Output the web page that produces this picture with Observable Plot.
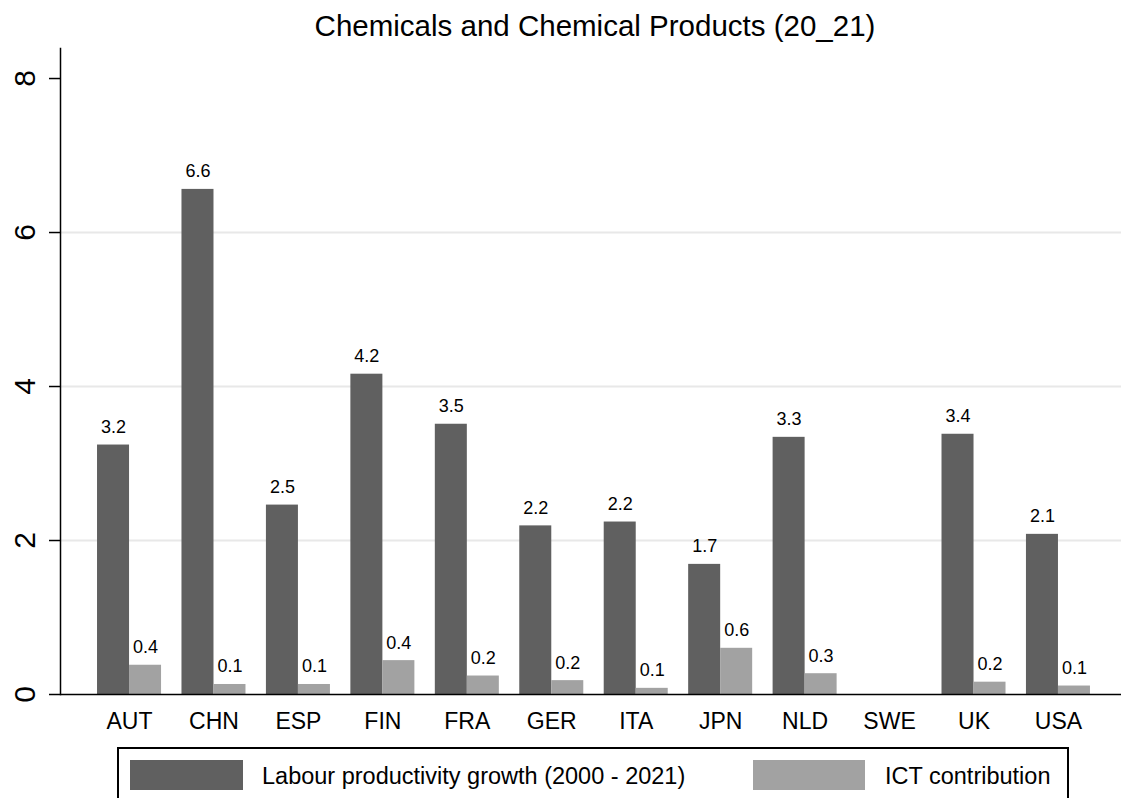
<!DOCTYPE html>
<html>
<head>
<meta charset="utf-8">
<script src="https://cdn.jsdelivr.net/npm/d3@7"></script>
<script src="https://cdn.jsdelivr.net/npm/@observablehq/plot@0.6"></script>
<style>
  html, body { margin: 0; padding: 0; background: white; }
  #wrap { position: relative; width: 1121px; height: 798px; overflow: hidden; background: white;
          font-family: "Liberation Sans", Arial, Helvetica, sans-serif; color: black; }
  #title { position: absolute; left: 0; top: 11px; width: 1190px; text-align: center; font-size: 29.5px; line-height: 1; }
  #chart { position: absolute; left: 0; top: 44px; }
  #legend { position: absolute; left: 117px; top: 747px; width: 952px; height: 62px; box-sizing: border-box;
            border: 2px solid black; background: white; }
  .sw { position: absolute; top: 11px; height: 30px; }
  .lt { position: absolute; top: 16px; font-size: 23.5px; line-height: 1; white-space: nowrap; }
</style>
</head>
<body>
<div id="wrap">
  <div id="title">Chemicals and Chemical Products (20_21)</div>
  <div id="chart"></div>
  <div id="legend"></div>
</div>
<script>
const countries = ["AUT","CHN","ESP","FIN","FRA","GER","ITA","JPN","NLD","SWE","UK","USA"];
const labourGrowth = [3.24, 6.56, 2.46, 4.16, 3.51, 2.19, 2.24, 1.69, 3.34, null, 3.38, 2.08];
const ictContribution = [0.38, 0.13, 0.13, 0.44, 0.24, 0.18, 0.08, 0.60, 0.27, null, 0.16, 0.11];
const yTicks = [0, 2, 4, 6, 8];
const gridTicks = [2, 4, 6];
const seriesNames = ["Labour productivity growth (2000 - 2021)", "ICT contribution"];
const seriesColors = ["#606060", "#a2a2a2"];

const rows = countries.map((c, i) => ({country: c, lp: labourGrowth[i], ict: ictContribution[i]}));
const lpRows = rows.filter(d => d.lp != null);
const ictRows = rows.filter(d => d.ict != null);

const chart = Plot.plot({
  width: 1121,
  height: 700,
  marginLeft: 60,
  marginRight: 0,
  marginTop: 4,
  marginBottom: 50,
  style: {fontFamily: "'Liberation Sans', Arial, sans-serif", background: "white", color: "black"},
  x: {domain: countries, paddingInner: 0.242, paddingOuter: 0.403, align: 0.544, round: false},
  y: {domain: [0, 8.39]},
  marks: [
    Plot.ruleY(gridTicks, {stroke: "#e8e8e8", strokeWidth: 2}),
    Plot.barY(lpRows, {x: "country", y: "lp", fill: seriesColors[0], insetRight: 32}),
    Plot.barY(ictRows, {x: "country", y: "ict", fill: seriesColors[1], insetLeft: 32}),
    Plot.text(lpRows, {x: "country", y: "lp", text: d => d.lp.toFixed(1), dx: -16, dy: -12, lineAnchor: "bottom", fontSize: 18, fill: "black"}),
    Plot.text(ictRows, {x: "country", y: "ict", text: d => d.ict.toFixed(1), dx: 16, dy: -12, lineAnchor: "bottom", fontSize: 18, fill: "black"}),
    Plot.ruleY([0], {stroke: "black", strokeWidth: 1.5}),
    Plot.frame({anchor: "left", stroke: "black", strokeWidth: 1.5}),
    Plot.axisY({ticks: yTicks, tickSize: 11, tickFormat: () => "", label: null, strokeWidth: 1.5}),
    Plot.text(yTicks, {y: d => d, text: d => String(d), frameAnchor: "left", dx: -35.5, rotate: -90,
                       textAnchor: "middle", lineAnchor: "middle", fontSize: 30, fill: "black"}),
    Plot.axisX({tickSize: 0, tickPadding: 18, fontSize: 23, label: null})
  ]
});
document.getElementById("chart").appendChild(chart);

const legend = document.getElementById("legend");
const swLeft = [11, 634], txtLeft = [143, 766], swWidth = [113, 112];
seriesNames.forEach((name, i) => {
  const sw = document.createElement("div");
  sw.className = "sw";
  sw.style.left = swLeft[i] + "px";
  sw.style.width = swWidth[i] + "px";
  sw.style.background = seriesColors[i];
  legend.appendChild(sw);
  const t = document.createElement("div");
  t.className = "lt";
  t.style.left = txtLeft[i] + "px";
  t.textContent = name;
  legend.appendChild(t);
});
</script>
</body>
</html>
